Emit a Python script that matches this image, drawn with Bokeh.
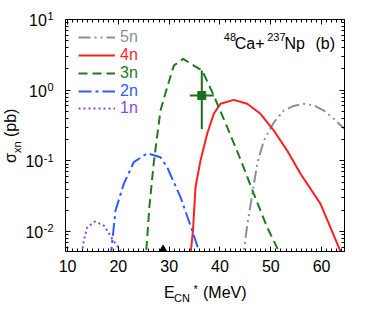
import math
from bokeh.plotting import figure
from bokeh.layouts import column
from bokeh.models import (LogAxis, LinearAxis, Range1d, Label, Legend, LegendItem, FixedTicker, Div)
from bokeh.core.properties import value
from bokeh.embed import file_html
from bokeh.resources import INLINE

# ---------------- data ----------------
e_5n = [44.3, 44.68, 45.35, 47.32, 48.62, 50.59, 52.56, 54.52, 56.49, 58.46, 60.43, 62.39, 64.5]
s_5n = [0.0033, 0.0052, 0.0122, 0.091, 0.194, 0.35, 0.516, 0.60, 0.643, 0.61, 0.516, 0.394, 0.284]

e_4n = [34.0, 34.26, 34.69, 35.18, 36.16, 37.48, 38.78, 40.10, 42.72, 45.35, 47.97, 50.59, 53.22, 55.84, 59.78, 63.71, 64.6]
s_4n = [0.003, 0.0052, 0.0105, 0.0425, 0.101, 0.242, 0.464, 0.643, 0.731, 0.643, 0.464, 0.269, 0.140, 0.0658, 0.0247, 0.00528, 0.0039]

e_3n = [25.3, 25.48, 26.13, 26.98, 28.29, 29.61, 30.91, 32.76, 34.85, 36.5, 38.78, 41.42, 44.04, 46.65, 49.29, 51.57, 52.5]
s_3n = [0.0035, 0.0052, 0.0234, 0.096, 0.516, 1.10, 2.23, 2.78, 2.23, 1.90, 0.84, 0.30, 0.105, 0.0343, 0.0115, 0.00528, 0.0037]

e_2n = [18.4, 18.59, 19.44, 21.07, 23.04, 25.68, 28.29, 29.61, 32.23, 34.53, 35.83, 36.1]
s_2n = [0.004, 0.0052, 0.0199, 0.0474, 0.096, 0.128, 0.113, 0.0814, 0.0307, 0.0104, 0.0054, 0.0045]

e_1n = [12.7, 12.89, 13.2, 13.87, 15.37, 17.14, 17.81, 18.79, 19.77, 20.42, 20.7]
s_1n = [0.0042, 0.0052, 0.0075, 0.0115, 0.0139, 0.0122, 0.0104, 0.0079, 0.0063, 0.0053, 0.0047]

exp_e = [36.42]
exp_s = [0.84]
exp_e_lo = [34.06]
exp_e_hi = [38.78]
exp_s_lo = [0.284]
exp_s_hi = [1.90]

tri_e = [28.8]

x_ticks = [10, 20, 30, 40, 50, 60]
x_minor = list(range(10, 65))
y_ticks = [0.01, 0.1, 1, 10]
y_exponents = ["-2", "-1", "0", "1"]
y_minor = [k * 10.0 ** n for n in (-3, -2, -1, 0) for k in range(2, 10)]

labels = ["5n", "4n", "3n", "2n", "1n"]
colors = ["#879393", "#ff1f1f", "#1f7a1f", "#2a5cff", "#8a44ee"]

X_RANGE = (9.6, 64.5)
Y_RANGE = (0.00524, 10)

FONT = "Liberation Sans"
W, H = 372, 316

# ---------------- figure ----------------
p = figure(width=W, height=H, x_range=Range1d(*X_RANGE), y_range=Range1d(*Y_RANGE),
           y_axis_type="log", output_backend="svg", toolbar_location=None,
           min_border_left=65, min_border_right=28, min_border_top=19, min_border_bottom=65)
p.xgrid.visible = False
p.ygrid.visible = False
p.outline_line_color = "black"
p.outline_line_width = 1
p.background_fill_color = "white"
p.border_fill_color = "white"

xt = FixedTicker(ticks=x_ticks, minor_ticks=x_minor)
yt = FixedTicker(ticks=y_ticks, minor_ticks=y_minor)


def style_axis(ax, ticks, show_labels=False):
    ax.axis_line_color = "black"
    ax.axis_line_width = 1
    ax.major_tick_line_color = "black"
    ax.minor_tick_line_color = "black"
    ax.major_tick_in = 5
    ax.major_tick_out = 0
    ax.minor_tick_in = 3
    ax.minor_tick_out = 0
    ax.major_label_text_font = FONT
    ax.major_label_text_font_size = "16px"
    ax.major_label_text_color = "black"
    if show_labels:
        ax.major_label_standoff = 8
    else:
        ax.major_label_overrides = {t: "" for t in ticks}
        ax.major_label_standoff = 0


p.xaxis[0].ticker = xt
style_axis(p.xaxis[0], x_ticks, show_labels=True)
p.yaxis[0].ticker = yt
style_axis(p.yaxis[0], y_ticks)

top_ax = LinearAxis(ticker=xt)
style_axis(top_ax, x_ticks)
p.add_layout(top_ax, "above")
right_ax = LogAxis(ticker=yt)
style_axis(right_ax, y_ticks)
p.add_layout(right_ax, "right")

# ---------------- curves ----------------
dashes = ["12 4 2 4 2 4", "solid", "9 5", "13 4 3 4", "2 3"]
series = [(e_5n, s_5n), (e_4n, s_4n), (e_3n, s_3n), (e_2n, s_2n), (e_1n, s_1n)]
renderers = []
for (xs, ys), c, d in zip(series, colors, dashes):
    r = p.line(xs, ys, line_color=c, line_width=2, line_dash=d)
    renderers.append(r)

# experimental point
p.segment(x0=exp_e_lo, y0=exp_s, x1=exp_e_hi, y1=exp_s, line_color="#1c6e1c", line_width=2)
p.segment(x0=exp_e, y0=exp_s_lo, x1=exp_e, y1=exp_s_hi, line_color="#1c6e1c", line_width=2)
p.scatter(exp_e, exp_s, marker="square", size=8, fill_color="#1c6e1c", line_color="#1c6e1c")

# triangle on the axis
p.scatter(tri_e, [Y_RANGE[0]] * len(tri_e), marker="triangle", size=11,
          fill_color="black", line_color="black")

# ---------------- legend (one per entry, coloured labels) ----------------
row_y = [38, 56, 74, 92, 109]  # page px of row centres
for lab, r, c, cy in zip(labels, renderers, colors, row_y):
    lg = Legend(items=[LegendItem(label=value(lab), renderers=[r])],
                location=(13, 243 - cy), padding=0, margin=0, spacing=0,
                border_line_color=None, background_fill_alpha=0,
                glyph_width=37, glyph_height=16, label_height=16, label_standoff=5,
                label_text_font=FONT, label_text_font_size="16px",
                label_text_color=c, label_text_baseline="middle")
    p.add_layout(lg)

# ---------------- texts inside the frame ----------------
PX0, PXS = 65.0, (344.0 - 65.0) / (X_RANGE[1] - X_RANGE[0])
PY0, PYD = 19.0, (251.0 - 19.0) / (math.log10(Y_RANGE[1]) - math.log10(Y_RANGE[0]))


def dx(px):
    return X_RANGE[0] + (px - PX0) / PXS


def dy(py):
    return 10 ** (math.log10(Y_RANGE[1]) - (py - PY0) / PYD)


def py_of(v):
    return PY0 + (math.log10(Y_RANGE[1]) - math.log10(v)) * PYD


def txt(s, px, py, size, align="left"):
    p.add_layout(Label(x=dx(px), y=dy(py), text=s, text_font=FONT,
                       text_font_size=f"{size}px", text_align=align,
                       text_baseline="alphabetic", text_color="black"))


txt("48", 223.3, 36, 11)
txt("Ca+", 234.3, 43.3, 16)
txt("237", 266.7, 36, 11)
txt("Np", 284, 43.3, 16)
txt("(b)", 315, 43.3, 16)

# ---------------- texts outside the frame (HTML overlay) ----------------
ASC = 0.8465  # baseline offset within a line box of line-height == font-size


def span(s, px, base, size, align="left", rotate=False):
    top = base - ASC * size
    common = (f"position:absolute;top:{top:.1f}px;font-family:'{FONT}';"
              f"font-size:{size}px;line-height:{size}px;white-space:nowrap;color:black;")
    if rotate:
        # px is the baseline x, base is the start (bottom) y of the text
        left = px - ASC * size
        return (f"<span style=\"position:absolute;left:{left:.1f}px;top:{base:.1f}px;"
                f"font-family:'{FONT}';font-size:{size}px;line-height:{size}px;"
                f"white-space:nowrap;color:black;transform-origin:0 0;"
                f"transform:rotate(-90deg);\">{s}</span>")
    if align == "right":
        return f"<span style=\"{common}right:{W - px:.1f}px;\">{s}</span>"
    return f"<span style=\"{common}left:{px:.1f}px;\">{s}</span>"


parts = []
CW = {"0": 0.556, "1": 0.556, "2": 0.556, "-": 0.333}
for t, ex in zip(y_ticks, y_exponents):
    ty = py_of(t)
    w = sum(CW[ch] for ch in ex) * 11
    parts.append(span(ex, 53.5, ty + 1.5, 11, align="right"))
    parts.append(span("10", 53.5 - w - 0.5, ty + 7.5, 16, align="right"))

parts.append(span("E", 164, 298, 16))
parts.append(span("CN", 174, 302, 11))
parts.append(span("*", 193.5, 293.5, 11))
parts.append(span("(MeV)", 203, 298, 16))

parts.append(span("σ", 16.5, 162.5, 16, rotate=True))
parts.append(span("xn", 21, 153, 11, rotate=True))
parts.append(span("(pb)", 16.5, 137, 16, rotate=True))

html = (f"<div style=\"position:relative;width:{W}px;height:{H}px;\">"
        + "".join(parts) + "</div>")
overlay = Div(text=html, width=W, height=H, margin=(-H, 0, 0, 0),
              styles={"pointer-events": "none"})

page = column(p, overlay, spacing=0)

open("out.html", "w").write(file_html(page, INLINE))
